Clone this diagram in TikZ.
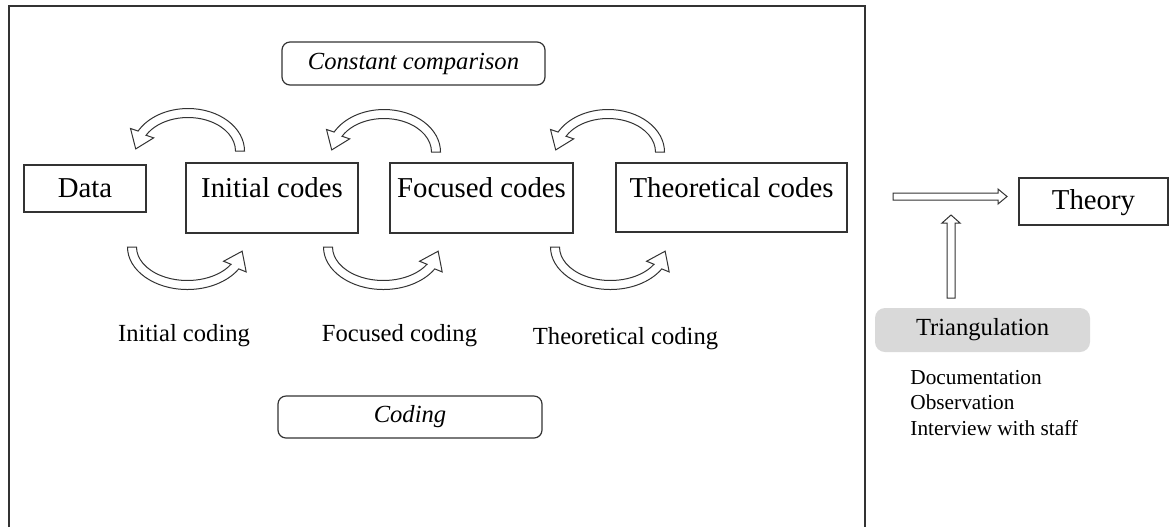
\documentclass[tikz,border=0pt]{standalone}
\usepackage{fontspec}
\setmainfont{Liberation Serif}
\usetikzlibrary{calc}
\newcommand\bentarrow[7]{% cx, cy, rx, ry, start angle, end angle, head turn
  \pgfmathsetmacro\hw{4.5}%
  \pgfmathsetmacro\hh{12.5}%
  \pgfmathsetmacro\hl{17}%
  \pgfmathsetmacro\ca{cos(#6)}%
  \pgfmathsetmacro\sa{sin(#6)}%
  \pgfmathsetmacro\ex{#1+(#3)*(\ca)}%
  \pgfmathsetmacro\ey{#2+(#4)*(\sa)}%
  \pgfmathsetmacro\sg{(#6>#5)?1:-1}%
  \pgfmathsetmacro\txa{0-(\sg)*(#3)*(\sa)}%
  \pgfmathsetmacro\tya{(\sg)*(#4)*(\ca)}%
  \pgfmathsetmacro\tn{sqrt((\txa)*(\txa)+(\tya)*(\tya))}%
  \pgfmathsetmacro\tx{((\txa)*cos(#7)-(\tya)*sin(#7))/\tn}%
  \pgfmathsetmacro\ty{((\txa)*sin(#7)+(\tya)*cos(#7))/\tn}%
  \pgfmathsetmacro\nx{0-(\sg)*(\ty)}%
  \pgfmathsetmacro\ny{(\sg)*(\tx)}%
  \draw[blockarrow] ({#1+(#3+\hw)*cos(#5)},{#2+(#4+\hw)*sin(#5)})
    arc[start angle=#5,end angle=#6,x radius=#3+\hw,y radius=#4+\hw]
    -- ({\ex-\hh*(\nx)},{\ey-\hh*(\ny)})
    -- ({\ex+\hl*(\tx)},{\ey+\hl*(\ty)})
    -- ({\ex+\hh*(\nx)},{\ey+\hh*(\ny)})
    -- ({#1+(#3-\hw)*(\ca)},{#2+(#4-\hw)*(\sa)})
    arc[start angle=#6,end angle=#5,x radius=#3-\hw,y radius=#4-\hw]
    -- cycle;
}
\begin{document}
\begin{tikzpicture}[x=0.5pt,y=0.5pt,
  frame/.style={draw=black!80,line width=0.6pt},
  codebox/.style={draw=black!80,line width=0.6pt,inner sep=0pt,anchor=base,
    font=\fontsize{14.4}{17}\selectfont},
  rbox/.style={draw=black!80,line width=0.6pt,rounded corners=4pt,inner sep=0pt,
    font=\fontsize{12.3}{15}\selectfont\itshape},
  lab/.style={inner sep=0pt,anchor=base,font=\fontsize{12.3}{15}\selectfont},
  small/.style={inner sep=0pt,anchor=base west,font=\fontsize{10.65}{12.75}\selectfont},
  blockarrow/.style={draw=black!80,line width=0.5pt,fill=white,line join=miter}]
\useasboundingbox (0,0) rectangle (1170,-527);
% frame
\draw[frame] (9,-527) -- (9,-6) -- (865,-6) -- (865,-527);
% top boxes
\node[rbox,minimum width=131.5pt,minimum height=21.5pt] (cc) at (413.5,-63.5) {Constant comparison};
\node[rbox,minimum width=132pt,minimum height=21pt] (coding) at (410,-417) {Coding};
% code boxes
\node[codebox,minimum width=61pt,text height=16pt,text depth=7.5pt] (data) at (85,-197) {Data};
\node[codebox,minimum width=86pt,text height=17pt,text depth=18pt] (ic) at (272,-197) {Initial codes};
\node[codebox,minimum width=91.5pt,text height=17pt,text depth=18pt] (fc) at (481.5,-197) {Focused codes};
\node[codebox,minimum width=115.5pt,text height=17pt,text depth=17.5pt] (tc) at (731.5,-197) {Theoretical codes};
\node[codebox,minimum width=74.5pt,text height=15.5pt,text depth=8pt] (theory) at (1093.5,-209) {Theory};
% labels
\node[lab] (l1) at (184,-341) {Initial coding};
\node[lab] (l2) at (399.5,-341) {Focused coding};
\node[lab] (l3) at (625.5,-344) {Theoretical coding};
% triangulation
\node[fill=black!15,rounded corners=5pt,inner sep=0pt,minimum width=107.5pt,minimum height=22pt,
  font=\fontsize{12.3}{15}\selectfont] (tri) at (982.5,-330) {Triangulation};
\node[small] (d1) at (910,-384) {Documentation};
\node[small] (d2) at (910,-409.5) {Observation};
\node[small] (d3) at (910,-435) {Interview with staff};
% curved arrows (top)
\bentarrow{188}{-151}{52}{38}{0}{152}{14}
\bentarrow{384}{-152}{52}{38}{0}{152}{14}
\bentarrow{608}{-152}{52}{38}{0}{152}{14}
% curved arrows (bottom)
\bentarrow{187.4}{-247}{55.4}{38}{180}{329}{16}
\bentarrow{383.4}{-247}{55.4}{38}{180}{329}{16}
\bentarrow{610.4}{-247}{55.4}{38}{180}{329}{16}
% straight block arrows
\coordinate (hs) at (893,-196.5);
\coordinate (ht) at (1007,-196.5);
\draw[blockarrow] ($(hs)+(0,3.5)$) -- ($(ht)+(-9,3.5)$) -- ($(ht)+(-9,7.5)$) -- (ht)
  -- ($(ht)+(-9,-7.5)$) -- ($(ht)+(-9,-3.5)$) -- ($(hs)+(0,-3.5)$) -- cycle;
\coordinate (vs) at (951,-298);
\coordinate (vt) at (951,-215);
\draw[blockarrow] ($(vs)+(-4,0)$) -- ($(vt)+(-4,-8)$) -- ($(vt)+(-9,-8)$) -- (vt)
  -- ($(vt)+(9,-8)$) -- ($(vt)+(4,-8)$) -- ($(vs)+(4,0)$) -- cycle;
\end{tikzpicture}
\end{document}
